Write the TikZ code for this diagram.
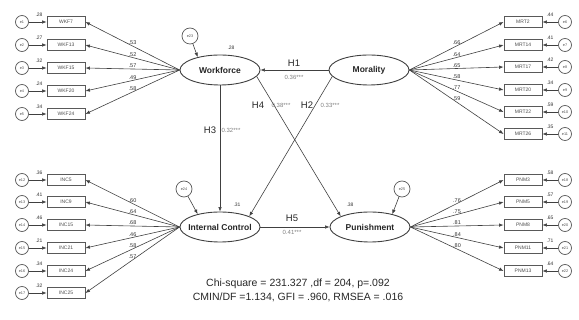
\documentclass[tikz,border=0pt]{standalone}
\usepackage{fontspec}
\setmainfont{Liberation Sans}
\usetikzlibrary{shapes.geometric,arrows.meta}
\begin{document}
\begin{tikzpicture}[x=1pt,y=-1pt,
  ln/.style={draw=black!75, line width=0.6pt},
  arr/.style={ln,-{Latex[length=4.5pt,width=3.5pt]}},
  ind/.style={draw=black!65, line width=0.9pt, rectangle, minimum width=38pt, minimum height=11pt, inner sep=0pt, text=black!70, font=\fontsize{5}{5}\selectfont},
  err/.style={draw=black!65, line width=0.7pt, circle, minimum size=13pt, inner sep=0pt, text=black!70, font=\fontsize{3.8}{4}\selectfont},
  lerr/.style={err, minimum size=16pt},
  lat/.style={draw=black!75, line width=0.9pt, ellipse, minimum width=80pt, minimum height=30pt, inner sep=0pt},
  latlab/.style={font=\bfseries\fontsize{8.5}{9}\selectfont, text=black!85, inner sep=0pt},
  ld/.style={font=\fontsize{5.5}{5.5}\selectfont, text=black!80, inner sep=1pt},
  smc/.style={font=\fontsize{5}{5}\selectfont, text=black!80, inner sep=0pt},
  hl/.style={font=\fontsize{9.5}{9.5}\selectfont, text=black!85, inner sep=0pt},
  cf/.style={font=\fontsize{6}{6}\selectfont, text=black!50, inner sep=0pt},
  fitt/.style={font=\fontsize{10.5}{11}\selectfont, text=black!85, inner sep=0pt},
]
\useasboundingbox (0,0) rectangle (579,320);

% latent variables
\node[lat] (wf) at (220,70) {};
\node[latlab] (wft) at (wf) {Workforce};
\node[lat] (mo) at (369,70) {};
\node[latlab] (mot) at (mo) {Morality};
\node[lat] (ic) at (220,227) {};
\node[latlab] (ict) at (ic) {Internal Control};
\node[lat] (pn) at (370,227) {};
\node[latlab] (pnt) at (pn) {Punishment};

% Workforce indicators (left top)
\foreach \yy/\t/\s/\l/\e [count=\i] in {22/WKF7/.28/.53/e1, 45/WKF13/.27/.52/e2, 68/WKF15/.32/.57/e3, 91/WKF20/.24/.49/e4, 114/WKF24/.34/.58/e5} {
  \node[ind] (wr\i) at (66,\yy) {\t};
  \node[err] (we\i) at (22,\yy) {\e};
  \draw[arr] (we\i) -- (wr\i);
  \node[smc] (ws\i) at (39,\yy-7.5) {\s};
  \draw[arr] (wf.west) -- node[ld, pos=0.5, above] (wl\i) {\l} (wr\i.east);
}

% Morality indicators (right top)
\foreach \yy/\t/\s/\l/\e [count=\i] in {22/MRT2/.44/.66/e6, 45/MRT14/.41/.64/e7, 67/MRT17/.42/.65/e8, 90/MRT20/.34/.58/e9, 112/MRT22/.59/.77/e10, 134/MRT26/.35/.59/e11} {
  \node[ind] (mr\i) at (523,\yy) {\t};
  \node[err] (me\i) at (565,\yy) {\e};
  \draw[arr] (me\i) -- (mr\i);
  \node[smc] (ms\i) at (550,\yy-7.5) {\s};
  \draw[arr] (mo.east) -- node[ld, pos=0.5, above] (ml\i) {\l} (mr\i.west);
}

% Internal Control indicators (left bottom)
\foreach \yy/\t/\s/\l/\e [count=\i] in {180/INC5/.36/.60/e12, 202/INC9/.41/.64/e13, 225/INC15/.46/.68/e14, 248/INC21/.21/.46/e15, 271/INC24/.34/.58/e16, 293/INC25/.32/.57/e17} {
  \node[ind] (cr\i) at (66,\yy) {\t};
  \node[err] (ce\i) at (22,\yy) {\e};
  \draw[arr] (ce\i) -- (cr\i);
  \node[smc] (cs\i) at (39,\yy-7.5) {\s};
  \draw[arr] (ic.west) -- node[ld, pos=0.5, above] (cl\i) {\l} (cr\i.east);
}

% Punishment indicators (right bottom)
\foreach \yy/\t/\s/\l/\e [count=\i] in {180/PNM3/.58/.76/e18, 202/PNM5/.57/.75/e19, 225/PNM8/.65/.81/e20, 248/PNM11/.71/.84/e21, 271/PNM13/.64/.80/e22} {
  \node[ind] (pr\i) at (523,\yy) {\t};
  \node[err] (pe\i) at (565,\yy) {\e};
  \draw[arr] (pe\i) -- (pr\i);
  \node[smc] (ps\i) at (550,\yy-7.5) {\s};
  \draw[arr] (pn.east) -- node[ld, pos=0.5, above] (pl\i) {\l} (pr\i.west);
}

% latent residuals
\node[lerr] (z1) at (190,36) {e23};
\draw[arr] (z1) -- (wf.150);
\node[smc] (r2wf) at (231,48) {.28};
\node[lerr] (z2) at (184,189) {e24};
\draw[arr] (z2) -- (ic.150);
\node[smc] (r2ic) at (237,205) {.31};
\node[lerr] (z3) at (402,189) {e25};
\draw[arr] (z3) -- (pn.30);
\node[smc] (r2pn) at (350,205) {.38};

% structural paths
\draw[arr] (mo) -- (wf);
\node[hl] (h1) at (294,63) {H1};
\node[cf] (c1) at (294,77) {0.36***};

\draw[arr] (wf) -- (ic);
\node[hl] (h3) at (210,130) {H3};
\node[cf] (c3) at (231,130) {0.32***};

\draw[arr] (wf.-10) -- (pn.160);
\node[hl] (h4) at (258,105) {H4};
\node[cf] (c4) at (281,105) {0.38***};

\draw[arr] (mo.190) -- (ic.20);
\node[hl] (h2) at (307,105) {H2};
\node[cf] (c2) at (330,105) {0.33***};

\draw[arr] (ic) -- (pn);
\node[hl] (h5) at (292,218) {H5};
\node[cf] (c5) at (292,232) {0.41***};

% fit indices
\node[fitt] (fit1) at (298,284) {Chi-square = 231.327 ,df = 204, p=.092};
\node[fitt] (fit2) at (298,297) {CMIN/DF =1.134, GFI = .960, RMSEA = .016};
\end{tikzpicture}
\end{document}
